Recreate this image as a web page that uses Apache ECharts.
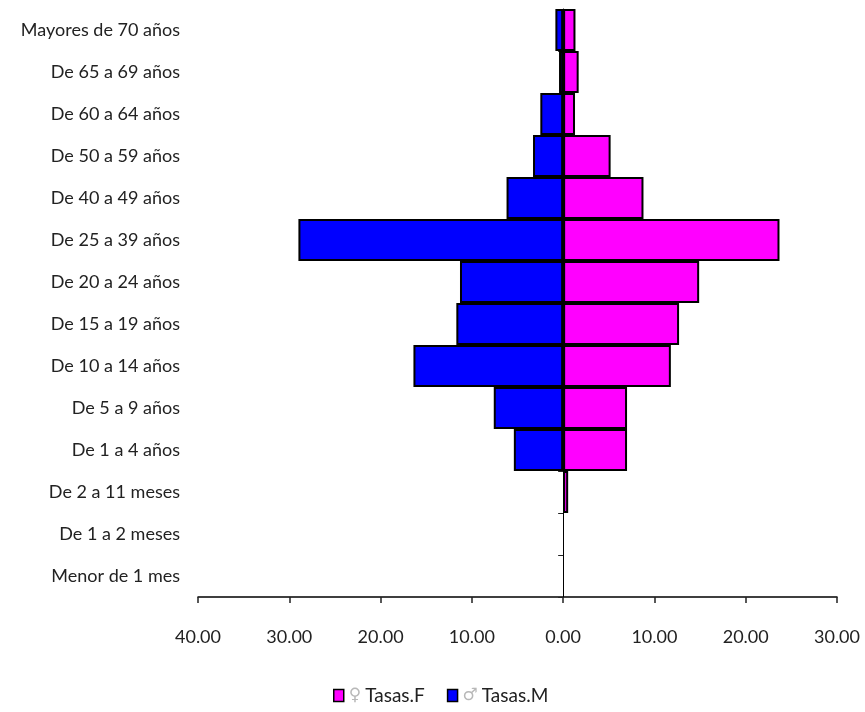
<!DOCTYPE html>
<html>
<head>
<meta charset="utf-8">
<script src="https://cdn.jsdelivr.net/npm/echarts@6/dist/echarts.min.js"></script>
<style>
html,body{margin:0;padding:0;background:#fff;}
#chart{width:865px;height:712px;}
</style>
</head>
<body>
<div id="chart"></div>
<script>
// Categories listed bottom -> top (ECharts category y-axis starts at the bottom)
var categories = [
  "Menor de 1 mes", "De 1 a 2 meses", "De 2 a 11 meses", "De 1 a 4 años",
  "De 5 a 9 años", "De 10 a 14 años", "De 15 a 19 años", "De 20 a 24 años",
  "De 25 a 39 años", "De 40 a 49 años", "De 50 a 59 años", "De 60 a 64 años",
  "De 65 a 69 años", "Mayores de 70 años"
];
var tasasF = [0, 0, 0.55, 7.0, 7.0, 11.8, 12.7, 14.9, 23.7, 8.8, 5.2, 1.3, 1.7, 1.35];
var tasasM = [0, 0, 0, 5.4, 7.6, 16.4, 11.7, 11.3, 29.0, 6.2, 3.3, 2.5, 0.45, 0.85];
var xTicks = { min: -40, max: 30, interval: 10 };

var FONT = "Lato";
function clean(arr, sign) {
  return arr.map(function (v) { return v === 0 ? '-' : sign * v; });
}

var chart = echarts.init(document.getElementById('chart'));
chart.setOption({
  animation: false,
  grid: { left: 198, right: 28, top: 9, bottom: 115, containLabel: false },
  legend: {
    top: 686,
    left: 333,
    icon: 'rect',
    itemWidth: 10,
    itemHeight: 12,
    itemGap: 22,
    padding: 0,
    itemStyle: { borderColor: '#000', borderWidth: 1.5 },
    textStyle: {
      fontFamily: FONT, fontSize: 19, color: '#222',
      rich: { s: { fontFamily: 'DejaVu Sans', fontSize: 17, color: '#b8b8b8', padding: [0, 4, 0, 0] } }
    },
    formatter: function (name) {
      return name === 'Tasas.F' ? '{s|♀}Tasas.F' : '{s|♂}Tasas.M';
    },
    data: ['Tasas.F', 'Tasas.M']
  },
  xAxis: {
    type: 'value',
    min: xTicks.min, max: xTicks.max, interval: xTicks.interval,
    axisLine: { show: true, lineStyle: { color: '#000', width: 1.5 } },
    axisTick: { show: true, length: 6, lineStyle: { color: '#222', width: 1.5 } },
    splitLine: { show: false },
    axisLabel: {
      margin: 31, fontFamily: FONT, fontSize: 18, color: '#222',
      formatter: function (v) { return Math.abs(v).toFixed(2); }
    }
  },
  yAxis: [
    {
      type: 'category', data: categories, position: 'left',
      axisLine: { show: false, onZero: false },
      axisTick: { show: false },
      axisLabel: { margin: 18, fontFamily: FONT, fontSize: 18, color: '#222' }
    },
    {
      type: 'category', data: categories, position: 'left',
      axisLine: { show: true, onZero: true, lineStyle: { color: '#000', width: 1 } },
      axisTick: { show: true, length: 5, lineStyle: { color: '#222', width: 1 } },
      axisLabel: { show: false }
    }
  ],
  series: [
    {
      name: 'Tasas.F', type: 'bar', stack: 'p', yAxisIndex: 0,
      barCategoryGap: '0%',
      itemStyle: { color: '#FF00FF', borderColor: '#000', borderWidth: 2 },
      data: clean(tasasF, 1)
    },
    {
      name: 'Tasas.M', type: 'bar', stack: 'p', yAxisIndex: 0,
      barCategoryGap: '0%',
      itemStyle: { color: '#0000FF', borderColor: '#000', borderWidth: 2 },
      data: clean(tasasM, -1)
    }
  ]
});
</script>
</body>
</html>
